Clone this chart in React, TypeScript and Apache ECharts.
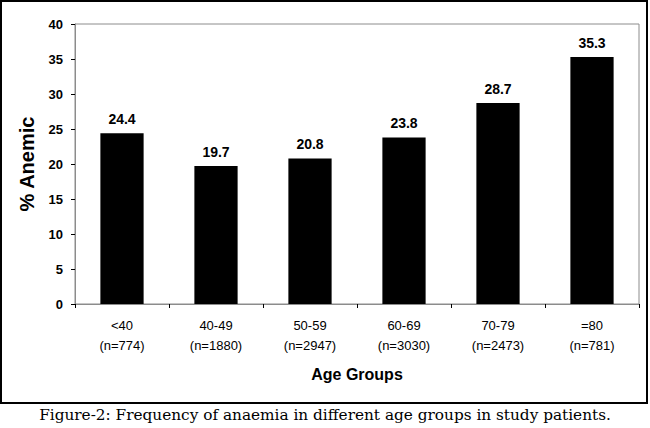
import React, { useEffect, useRef } from "react";
import * as echarts from "echarts";

const categories = ["<40", "40-49", "50-59", "60-69", "70-79", "=80"];
const sampleSizes = [774, 1880, 2947, 3030, 2473, 781];
const percentAnemic = [24.4, 19.7, 20.8, 23.8, 28.7, 35.3];
const yTicks = { min: 0, max: 40, interval: 5 };
const caption = "Figure-2: Frequency of anaemia in different age groups in study patients.";

const FONT = "'Liberation Sans', Arial, sans-serif";

export default function App() {
  const ref = useRef<HTMLDivElement>(null);

  useEffect(() => {
    if (!ref.current) return;
    const chart = echarts.init(ref.current, null, { renderer: "svg" });
    const labels = categories.map((c, i) => `${c}\n(n=${sampleSizes[i]})`);
    chart.setOption({
      animation: false,
      backgroundColor: "#ffffff",
      grid: {
        left: 75,
        right: 11,
        top: 24,
        bottom: 124,
        show: true,
        borderColor: "#8c8c8c",
        borderWidth: 1,
        containLabel: false,
      },
      xAxis: {
        type: "category",
        data: labels,
        name: "Age Groups",
        nameLocation: "middle",
        nameGap: 62,
        nameTextStyle: { fontFamily: FONT, fontSize: 16, fontWeight: "bold", color: "#000" },
        axisLine: { show: true, lineStyle: { color: "#8c8c8c", width: 1 } },
        axisTick: { show: true, alignWithLabel: false, inside: false, length: 4, lineStyle: { color: "#000" } },
        axisLabel: {
          fontFamily: FONT,
          fontSize: 13,
          color: "#000",
          lineHeight: 20,
          margin: 11,
          interval: 0,
        },
      },
      yAxis: {
        type: "value",
        min: yTicks.min,
        max: yTicks.max,
        interval: yTicks.interval,
        name: "% Anemic",
        nameLocation: "middle",
        nameRotate: 90,
        nameGap: 38,
        nameTextStyle: { fontFamily: FONT, fontSize: 20, fontWeight: "bold", color: "#000" },
        splitLine: { show: false },
        axisLine: { show: true, lineStyle: { color: "#8c8c8c", width: 1 } },
        axisTick: { show: true, inside: false, length: 4, lineStyle: { color: "#000" } },
        axisLabel: { fontFamily: FONT, fontSize: 13, fontWeight: "bold", color: "#000", margin: 12 },
      },
      series: [
        {
          type: "bar",
          data: percentAnemic,
          barWidth: "46%",
          itemStyle: { color: "#000000" },
          label: {
            show: true,
            position: "top",
            distance: 7,
            fontFamily: FONT,
            fontSize: 14,
            fontWeight: "bold",
            color: "#000",
            formatter: (p: any) => Number(p.value).toFixed(1),
          },
        },
      ],
      graphic: [
        {
          type: "rect",
          shape: { x: 1, y: 1, width: 646, height: 402 },
          style: { fill: "none", stroke: "#000", lineWidth: 2 },
          silent: true,
        },
        {
          type: "text",
          x: 325,
          y: 415,
          style: {
            text: caption,
            fontFamily: "'DejaVu Serif', 'Liberation Serif', serif",
            fontSize: 15.3,
            fill: "#000",
            align: "center",
            verticalAlign: "middle",
          },
        },
      ],
    });
    return () => chart.dispose();
  }, []);

  return (
    <div
      ref={ref}
      style={{ position: "absolute", left: 0, top: 0, width: 650, height: 428, background: "#fff" }}
    />
  );
}
